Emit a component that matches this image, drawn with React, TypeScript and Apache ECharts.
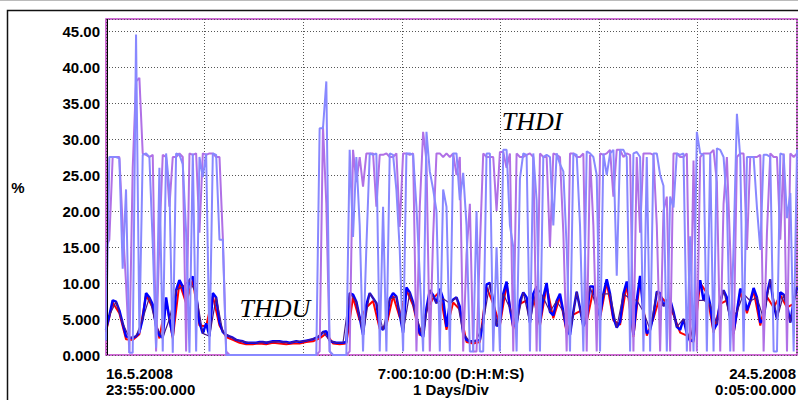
import React, { useEffect, useRef } from "react";
import * as echarts from "echarts";

// Time span: 16.5.2008 23:55 -> 24.5.2008 0:05 = 10090 minutes, 208 samples
const SPAN_MIN = 10090;
const DAY_MIN = 1440;

const yTickLabels = ["0.000", "5.000", "10.00", "15.00", "20.00", "25.00", "30.00", "35.00", "40.00", "45.00"];
const xStartLabel = ["16.5.2008", "23:55:00.000"];
const xMidLabel = ["7:00:10:00 (D:H:M:S)", "1 Days/Div"];
const xEndLabel = ["24.5.2008", "0:05:00.000"];

const thduBlue = [
  3.5, 5.5, 7.6, 7.4, 6.2, 4.4, 2.6, 2.4, 2.4, 2.6,
  3.2, 5.0, 8.6, 8.0, 7.0, 4.0, 2.7, 2.4, 8.0, 5.0,
  2.6, 9.0, 10.4, 9.5, 7.6, 10.4, 10.9, 8.5, 4.5, 3.0,
  4.4, 2.6, 8.6, 8.0, 4.5, 3.2, 2.8, 2.6, 2.4, 2.1,
  2.0, 1.9, 1.7, 1.7, 1.7, 1.7, 1.8, 1.8, 1.7, 1.8,
  1.9, 1.9, 1.9, 1.8, 1.8, 1.7, 1.8, 1.9, 1.8, 1.9,
  2.0, 2.1, 2.2, 2.4, 2.6, 3.2, 3.3, 2.0, 1.8, 1.7,
  1.7, 1.7, 1.8, 8.6, 8.4, 7.4, 5.2, 2.8, 7.0, 8.6,
  7.9, 7.2, 4.0, 3.5, 4.5, 7.8, 8.6, 8.1, 5.6, 3.1,
  9.4, 8.7, 7.3, 5.3, 3.0, 2.5, 6.5, 9.0, 8.3, 7.2,
  9.2, 7.8, 3.9, 7.2, 7.7, 8.0, 6.7, 3.0, 2.1, 1.9,
  1.9, 2.0, 2.1, 4.5, 9.8, 10.0, 7.5, 4.0, 4.5, 8.5,
  10.2, 6.5, 4.0, 4.2, 7.5, 8.7, 8.0, 4.5, 8.5, 9.5,
  4.5, 8.0, 10.0, 6.0, 5.5, 7.5, 8.5, 6.0, 3.5, 2.8,
  6.0, 8.8, 6.5, 4.0, 5.0, 9.5, 9.5, 6.5, 5.5, 8.5,
  10.5, 8.5, 5.2, 3.8, 4.6, 8.5, 10.2, 7.8, 2.8, 7.6,
  11.0, 6.0, 3.0, 3.5, 5.5, 8.8, 8.6, 6.8, 7.6, 7.7,
  6.0, 3.9, 3.5, 5.0, 3.0, 1.9, 2.1, 7.6, 10.4, 7.6,
  9.0, 7.0, 3.5, 4.3, 7.5, 9.0, 8.0, 5.0, 3.2, 6.0,
  9.2, 8.5, 6.2, 7.5, 9.3, 8.0, 4.5, 5.0, 8.5, 10.5,
  7.0, 5.0, 8.7, 8.4, 7.0, 4.5, 7.5, 9.4,
];

// sampled at every second point (even samples)
const thduRed = [
  3.2, 7.3, 5.8, 2.2, 2.1, 2.9, 8.3, 6.6, 2.3, 7.6,
  2.3, 10.0, 7.2, 10.5, 4.1, 4.0, 8.2, 4.1, 2.5, 2.1,
  1.7, 1.5, 1.5, 1.6, 1.5, 1.7, 1.6, 1.5, 1.6, 1.6,
  1.8, 1.9, 2.3, 3.0, 1.6, 1.5, 1.6, 8.0, 4.8, 6.6,
  7.5, 3.6, 4.1, 8.2, 5.2, 9.0, 6.9, 2.7, 6.1, 7.9,
  8.8, 3.5, 7.3, 6.3, 1.8, 1.6, 1.8, 9.4, 7.1, 4.1,
  9.8, 3.6, 7.1, 7.6, 8.1, 4.1, 9.6, 5.1, 8.1, 3.1,
  5.6, 6.1, 4.6, 9.1, 5.1, 10.1, 4.8, 4.2, 9.8, 2.5,
  10.6, 2.7, 5.1, 8.2, 7.2, 5.6, 3.1, 2.7, 1.8, 10.0,
  8.6, 3.1, 7.1, 7.6, 2.9, 8.8, 5.8, 8.9, 4.1, 8.1,
  6.6, 8.3, 6.6, 7.1,
];

// sampled at every second point (odd samples)
const thduPurple = [
  5.5, 7.4, 4.4, 2.4, 2.6, 5.0, 8.0, 4.0, 2.4, 5.0,
  9.0, 9.5, 10.4, 8.5, 3.0, 2.6, 8.0, 3.2, 2.6, 2.1,
  1.9, 1.7, 1.7, 1.8, 1.8, 1.9, 1.8, 1.7, 1.9, 1.9,
  2.1, 2.4, 3.2, 2.0, 1.7, 1.7, 8.6, 7.4, 2.8, 8.6,
  7.2, 3.5, 7.8, 8.1, 3.1, 8.7, 5.3, 2.5, 9.0, 7.2,
  7.8, 7.2, 8.0, 3.0, 1.9, 2.0, 4.5, 10.0, 4.0, 8.5,
  6.5, 4.2, 8.7, 4.5, 9.5, 8.0, 6.0, 7.5, 6.0, 2.8,
  8.8, 4.0, 9.5, 6.5, 8.5, 8.5, 3.8, 8.5, 7.8, 7.6,
  6.0, 3.5, 8.8, 6.8, 7.7, 3.9, 5.0, 1.9, 7.6, 7.6,
  7.0, 4.3, 9.0, 5.0, 6.0, 8.5, 7.5, 8.0, 5.0, 10.5,
  5.0, 8.4, 4.5, 9.4,
];

const thdiA = [
  2, 27.5, 27.5, 27.5, 27.3, 12, 23, 0.3, 0.3, 44.5,
  3, 27.8, 28, 27.5, 15.5, 1, 26, 0.5, 28, 23,
  0.3, 28, 27.8, 26.5, 17, 0.3, 28, 0.5, 27.5, 24.7,
  28, 0.5, 28, 27.8, 16, 16, 0, 0, 0, 0,
  0, 0, 0, 0, 0, 0, 0, 0, 0, 0,
  0, 0, 0, 0, 0, 0, 0, 0, 0, 0,
  0, 0, 0, 0, 31.5, 31.5, 38, 0.5, 0, 0,
  0, 0, 0, 28.5, 16.4, 27.5, 18, 0.5, 15, 28,
  27.8, 28, 0.5, 20.6, 0.5, 28, 27.8, 22.9, 14.6, 0.5,
  28, 28, 27.8, 20.6, 11, 0.5, 31, 25.5, 23, 20,
  0.5, 23, 20.6, 0.5, 28, 28, 21.5, 25.3, 18, 0.5,
  0.5, 20, 0.5, 0.5, 28, 28, 0.5, 15, 0.5, 28.5,
  28.5, 18, 15, 0.5, 24.5, 28, 27.8, 0.5, 28, 21.5,
  0.5, 27.5, 27.8, 27.5, 18, 28, 26.5, 25.5, 15, 0.5,
  28, 27.8, 18, 0.5, 28.3, 28, 27.5, 25, 0.5, 28,
  25, 28, 28.5, 11, 28.5, 28.5, 27.5, 0.5, 28, 28.2,
  27.5, 0.5, 27.5, 0.5, 28, 28, 25, 23.5, 0.5, 22,
  20.5, 28, 27.8, 28, 0.5, 16.5, 0.5, 31, 28, 27.8,
  0.5, 28, 0.5, 28.7, 28.5, 27.5, 21, 0.5, 15, 33.5,
  27.5, 0.5, 27.5, 27.5, 27.5, 20.5, 14.6, 27.8, 27.8, 27.5,
  0.5, 0.5, 28, 27.8, 19, 22.5, 0.5, 28.5,
];

const thdiB = [
  15, 16, 27.5, 27.5, 27.5, 18, 10, 0.3, 26, 38,
  38.5, 28, 27.8, 27.5, 27.8, 0.5, 16, 27.8, 27.5, 20.6,
  27.5, 27.5, 28, 27.5, 0.5, 28, 27.8, 28, 17, 28,
  27.8, 28, 28, 27.5, 27.5, 16.3, 0.5, 0, 0, 0,
  0, 0, 0, 0, 0, 0, 0, 0, 0, 0,
  0, 0, 0, 0, 0, 0, 0, 0, 0, 0,
  0, 0, 0, 0, 0.5, 31.8, 21, 0.5, 0, 0,
  0, 0, 0, 0.5, 28.5, 24, 27.5, 23.4, 28, 28,
  28, 20.6, 27.8, 27.8, 28, 27.5, 27.5, 28, 17.8, 28,
  28, 27.8, 28, 0.5, 20.6, 31, 27, 0.5, 16.5, 28,
  28, 27.5, 28, 27.5, 28, 25, 27.5, 0.5, 14, 21,
  0.5, 0.5, 15, 28, 27.5, 27.5, 27.5, 20, 28.2, 28.2,
  26, 28, 0.5, 28, 27.5, 27.5, 27.8, 28, 27.5, 0.5,
  28, 27.5, 27.5, 15, 28, 27.8, 27.5, 17, 0.5, 28,
  28, 27.5, 27.5, 28, 0.5, 27.8, 18, 0.5, 28, 27.8,
  28, 28.5, 22, 28.5, 28.5, 27.5, 28, 27.8, 0.5, 27.5,
  17, 28, 28, 28, 27.8, 18, 0.5, 20, 22, 0.5,
  28, 28, 27.5, 27.5, 28, 0.5, 27, 0.5, 27.5, 28,
  28, 28, 28.5, 24, 0.5, 21, 27.5, 14.6, 0.5, 27.5,
  28, 28, 14.6, 27.5, 27.5, 27.5, 27.8, 0.5, 17, 28,
  27.5, 27.5, 16, 28, 0.5, 28, 27.5, 28,
];

const N = thduBlue.length;
const STEP = SPAN_MIN / (N - 1);

const full = (arr: number[]) => arr.map((v, i) => [i * STEP, v]);
const even = (arr: number[]) => arr.map((v, i) => [2 * i * STEP, v]);
const odd = (arr: number[]) => arr.map((v, i) => [(2 * i + 1) * STEP, v]);

const BOLD = "bold 15px 'Liberation Sans', Arial, sans-serif";

export default function App() {
  const ref = useRef<HTMLDivElement>(null);

  useEffect(() => {
    document.body.style.margin = "0";
    if (!ref.current) return;
    const chart = echarts.init(ref.current, null, { renderer: "svg" });
    const line = (name: string, data: number[][], color: string, width: number) => ({
      name,
      type: "line",
      data,
      symbol: "none",
      showSymbol: false,
      lineStyle: { color, width },
      itemStyle: { color },
      emphasis: { disabled: true },
    });
    chart.setOption({
      animation: false,
      backgroundColor: "#ffffff",
      grid: {
        left: 106,
        right: 1,
        top: 19,
        bottom: 45,
        show: true,
        borderColor: "#c03cc8",
        borderWidth: 1.5,
        backgroundColor: "transparent",
      },
      xAxis: {
        type: "value",
        min: 0,
        max: SPAN_MIN,
        interval: DAY_MIN,
        axisLabel: { show: false },
        axisTick: { show: false },
        axisLine: { show: false },
        splitLine: { show: true, lineStyle: { color: "#555", type: [1, 2], width: 1 } },
      },
      yAxis: {
        type: "value",
        min: 0,
        max: 46.67,
        interval: 5,
        axisLine: { show: false },
        axisTick: { show: false },
        splitLine: { show: true, lineStyle: { color: "#555", type: [1, 2], width: 1 } },
        axisLabel: {
          margin: 6,
          color: "#000",
          fontWeight: "bold",
          fontSize: 15,
          fontFamily: "'Liberation Sans', Arial, sans-serif",
          formatter: (v: number) => {
            const i = Math.round(v / 5);
            return Math.abs(v - i * 5) < 1e-6 && yTickLabels[i] ? yTickLabels[i] : "";
          },
        },
      },
      series: [
        line("THDU L2", even(thduRed), "#ff0000", 2),
        line("THDU L1", full(thduBlue), "#0000ff", 2.5),
        line("THDU L3", odd(thduPurple), "#4a1a8a", 1.2),
        line("THDI L2", full(thdiB), "#b070e6", 2),
        line("THDI L1", full(thdiA), "#8888ff", 2),
      ],
      graphic: [
        { type: "line", shape: { x1: 0, y1: 0.5, x2: 798, y2: 0.5 }, style: { stroke: "#bbb", lineWidth: 1 } },
        { type: "rect", shape: { x: 7.5, y: 10.5, width: 800, height: 400 }, style: { fill: "none", stroke: "#111", lineWidth: 1.5 } },
        { type: "line", shape: { x1: 107.5, y1: 19, x2: 107.5, y2: 355 }, style: { stroke: "#000", lineWidth: 1 }, z: 50 },
        { type: "text", x: 18, y: 187, style: { text: "%", font: BOLD, fill: "#000", textAlign: "center", textVerticalAlign: "middle" } },
        { type: "text", x: 106, y: 373, style: { text: xStartLabel[0], font: BOLD, fill: "#000", textAlign: "left", textVerticalAlign: "middle" } },
        { type: "text", x: 106, y: 389, style: { text: xStartLabel[1], font: BOLD, fill: "#000", textAlign: "left", textVerticalAlign: "middle" } },
        { type: "text", x: 451, y: 373, style: { text: xMidLabel[0], font: BOLD, fill: "#000", textAlign: "center", textVerticalAlign: "middle" } },
        { type: "text", x: 451, y: 389, style: { text: xMidLabel[1], font: BOLD, fill: "#000", textAlign: "center", textVerticalAlign: "middle" } },
        { type: "text", x: 796, y: 373, style: { text: xEndLabel[0], font: BOLD, fill: "#000", textAlign: "right", textVerticalAlign: "middle" } },
        { type: "text", x: 796, y: 389, style: { text: xEndLabel[1], font: BOLD, fill: "#000", textAlign: "right", textVerticalAlign: "middle" } },
        { type: "text", x: 532, y: 121, z: 100, style: { text: "THDI", font: "italic 26px 'Liberation Serif', 'Times New Roman', serif", fill: "#000", textAlign: "center", textVerticalAlign: "middle" } },
        { type: "text", x: 275, y: 308, z: 100, style: { text: "THDU", font: "italic 26px 'Liberation Serif', 'Times New Roman', serif", fill: "#000", textAlign: "center", textVerticalAlign: "middle" } },
      ],
    });
    return () => chart.dispose();
  }, []);

  return <div ref={ref} style={{ width: 798, height: 400 }} />;
}
